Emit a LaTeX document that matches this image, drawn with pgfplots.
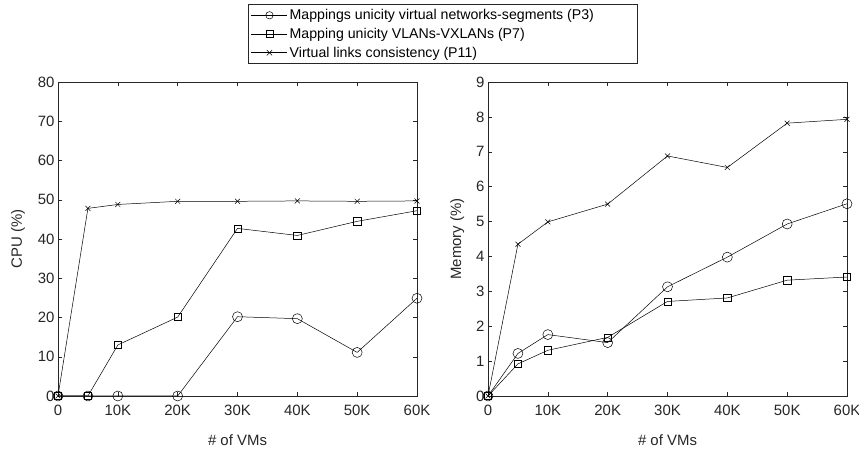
\documentclass[border=0pt]{standalone}
\usepackage{fontspec}
\setmainfont{Liberation Sans}
\usepackage{pgfplots}
\pgfplotsset{compat=1.18}
\definecolor{mgray}{HTML}{262626}
\begin{document}
\begin{tikzpicture}[x=1bp,y=1bp]
\path[use as bounding box] (0,-54) rectangle (859,396);
\pgfplotsset{
  myax/.style={
    scale only axis, width=359bp, height=314bp,
    xmin=0, xmax=60000,
    xtick={0,10000,20000,30000,40000,50000,60000},
    xticklabels={0,10K,20K,30K,40K,50K,60K},
    scaled x ticks=false,
    tick align=inside, major tick length=4bp,
    tick style={mgray, line width=0.4pt},
    axis line style={mgray, line width=0.6pt},
    ticklabel style={font=\fontsize{15}{17}\selectfont, text=mgray},
    xticklabel style={yshift=-6bp},
    label style={font=\fontsize{15}{17}\selectfont, text=mgray},
    /pgf/number format/assume math mode=true,
    xlabel={\# of VMs},
    xlabel style={yshift=-12bp},
    every axis plot/.append style={black, line width=0.5pt},
  },
  pc/.style={mark=o, mark size=5bp, mark options={line width=0.5pt}},
  ps/.style={mark=square, mark size=3.6bp, mark options={line width=0.5pt}},
  px/.style={mark=x, mark size=3.5bp, mark options={line width=0.5pt}},
}
\begin{axis}[myax, at={(58bp,0)}, anchor=south west, ymin=0, ymax=80, ytick={0,10,...,80},
  ylabel={CPU (\%)}, ylabel style={yshift=6bp},
  legend style={at={(0.529,1.248)}, anchor=north west, draw=mgray, line width=0.6pt,
    font=\fontsize{14.2}{16}\selectfont, row sep=3bp, inner sep=3bp,
    /tikz/every even column/.append style={column sep=1bp}},
  legend cell align=left,
  legend image code/.code={\draw[mark repeat=2,mark phase=2,#1,mark size=3.7bp] plot coordinates {(0bp,0bp) (18bp,0bp) (36bp,0bp)};}]
\addplot[pc] coordinates {(0,0) (5000,0) (10000,0) (20000,0) (30000,20.2) (40000,19.7) (50000,11.1) (60000,24.9)};
\addlegendentry{Mappings unicity virtual networks-segments (P3)\hspace*{38bp}}
\addplot[ps] coordinates {(0,0) (5000,0) (10000,13.0) (20000,20.1) (30000,42.7) (40000,40.9) (50000,44.5) (60000,47.2)};
\addlegendentry{Mapping unicity VLANs-VXLANs (P7)}
\addplot[px] coordinates {(0,0) (5000,47.8) (10000,48.8) (20000,49.6) (30000,49.6) (40000,49.7) (50000,49.6) (60000,49.7)};
\addlegendentry{Virtual links consistency (P11)}
\end{axis}
\begin{axis}[myax, at={(488bp,0)}, anchor=south west, ymin=0, ymax=9, ytick={0,1,...,9},
  ylabel={Memory (\%)}, ylabel style={yshift=5bp}]
\addplot[pc] coordinates {(0,0) (5000,1.22) (10000,1.76) (20000,1.53) (30000,3.13) (40000,3.98) (50000,4.93) (60000,5.51)};
\addplot[ps] coordinates {(0,0) (5000,0.92) (10000,1.31) (20000,1.68) (30000,2.71) (40000,2.81) (50000,3.32) (60000,3.41)};
\addplot[px] coordinates {(0,0) (5000,4.35) (10000,4.99) (20000,5.50) (30000,6.88) (40000,6.55) (50000,7.82) (60000,7.93)};
\end{axis}
\end{tikzpicture}
\end{document}
